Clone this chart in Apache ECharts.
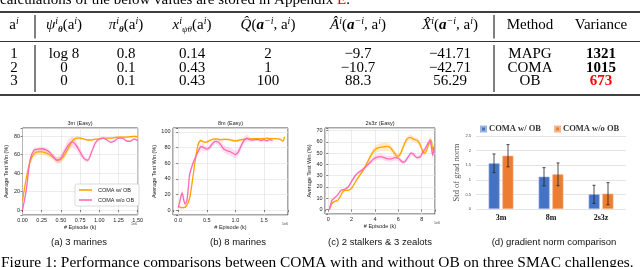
<!DOCTYPE html>
<html><head><meta charset="utf-8">
<script src="https://cdn.jsdelivr.net/npm/echarts@6/dist/echarts.min.js"></script>
<style>html,body{margin:0;padding:0;background:#fff}#c{width:640px;height:267px}</style>
</head><body><div id="c"></div>
<script>
// ---------------- table data ----------------
const tableHeaders = [
  '{r|a}{sup|i}',
  '{it|ψ}{sup|i}{subb|θ}{r|(a}{sup|i}{r|)}',
  '{it|π}{sup|i}{subb|θ}{r|(a}{sup|i}{r|)}',
  '{it|x}{sup|i}{sub|ψθ}{r|(a}{sup|i}{r|)}',
  '{it|Q\u0302}{r|(}{bi|a}{sup|−i}{r|, a}{sup|i}{r|)}',
  '{it|A\u0302}{sup|i}{r|(}{bi|a}{sup|−i}{r|, a}{sup|i}{r|)}',
  '{it|X\u0302}{sup|i}{r|(}{bi|a}{sup|−i}{r|, a}{sup|i}{r|)}',
  '{r|Method}',
  '{r|Variance}'
];
const colAction = ['1', '2', '3'];
const colPsi = ['log 8', '0', '0'];
const colPi = ['0.8', '0.1', '0.1'];
const colX = ['0.14', '0.43', '0.43'];
const colQ = ['2', '1', '100'];
const colAdv = ['−9.7', '−10.7', '88.3'];
const colXhat = ['−41.71', '−42.71', '56.29'];
const methods = ['MAPG', 'COMA', 'OB'];
const variances = ['1321', '1015', '673'];

// ---------------- 3m (Easy) ----------------
const m3_x = [0,0.05,0.1,0.15,0.2,0.25,0.3,0.35,0.4,0.45,0.5,0.55,0.6,0.65,0.7,0.75,0.8,0.85,0.9,0.95,1.0,1.05,1.1,1.15,1.2,1.25,1.3,1.35,1.4,1.45,1.5];
const m3_ob = [10,35,53,61,63,63,62,60,57,54,55,60,68,75,78,78,77,76,76,77,77,78,78,78,78.5,79,79,79,79.5,80,79.5];
const m3_ob_sd = [1,2,3,3,3,3,3,3,3,3.5,4,4,4,3,2,1.5,1,1,1,1,1,1,1,1,1,1,1,1,1,1,1];
const m3_noob = [0,22,55,65,66,66.5,65.5,63,58,54,56,64,71,74,70,63,56,54,63,73,77,78,76,73.5,75,78,78,75,74.5,77,75.5];
const m3_noob_sd = [0.5,2,2.5,2.5,2.5,2.5,2.5,2.5,2.5,3,4,5,6,6,5,4,3,2.5,2,2,1.5,1,1,1,1,1,1,1,1,1,1];

// ---------------- 8m (Easy) ----------------
const m8_ob_x = [0,0.05,0.1,0.15,0.2,0.25,0.3,0.35,0.4,0.45,0.5,0.55,0.6,0.65,0.7,0.75,0.8,0.85,0.9,0.95,1.0,1.05,1.1,1.15,1.2,1.25,1.3,1.35,1.4,1.45,1.5,1.55,1.6,1.65,1.7,1.75,1.8,1.83,1.86];
const m8_ob = [5,3,3,6,15,38,64,84,89,87,87,89,90.5,91,90.5,90,90.5,90.5,90,89,88.5,89,90,90.5,91,91,91,91.5,91.5,91.5,91.5,92,91.5,91.5,91.5,91,90,88,94];
const m8_ob_sd = [2,1.5,1.5,2,3,3,3,2,1.5,1.5,1.5,1.5,1.5,1.5,1.5,1.5,1.5,1.5,1.5,1.5,1.5,1.5,1.5,1.5,1.5,1.5,1.5,1,1,1,1,1,1,1,1,1,1,1.5,2];
const m8_noob_x = [0,0.03,0.05,0.07,0.1,0.12,0.15,0.18,0.2,0.25,0.3,0.35,0.4,0.45,0.5,0.55,0.6,0.65,0.7,0.75,0.8,0.85,0.9,0.95,1.0,1.05,1.1,1.15,1.2,1.25,1.3,1.35,1.4,1.45,1.5,1.55,1.6,1.65];
const m8_noob = [3,11,18,22,12,8,11,30,45,58,67,75,81,80,78,80,85,88,87,83,78,76,75,73,71,74,82,89,92,90,89.5,90,90,89,90,88.5,90,89];
const m8_noob_sd = [1,2,4,5,4,3,3,3,3,3,3,4,5,4,3,3,3,3,4,5,5,5,5,5,5,5,4,4,5,3,2,2,2,2,2,2,2,2];

// ---------------- 2s3z (Easy) ----------------
const s2z3_ob_x = [0.1,0.3,0.5,0.8,1.0,1.2,1.4,1.7,2.0,2.3,2.6,3.0,3.3,3.6,3.9,4.2,4.6,5.0,5.3,5.6,5.9,6.1,6.4,6.7,7.0,7.3,7.6,7.8,8.0,8.2,8.4,8.6,8.75,8.85,8.95,9.05];
const s2z3_ob = [0,5,7,8,11,15,17,17,19,24,29,35,41,47,52,54.5,55.5,56,55,51,47.5,48,55,62,64,62.5,61.5,59,54,50,52,58,62,60,53,56];
const s2z3_ob_sd = [0.5,1,1,1,1,1,1,1,1,1,1.5,1.5,2,2.5,3,3.5,3.5,3.5,3,3,2.5,2.5,2.5,2.5,2.5,2.5,2.5,2.5,2.5,2.5,2.5,3,3,3,3,3];
const s2z3_noob_x = [0.1,0.3,0.5,0.8,1.1,1.4,1.7,2.0,2.3,2.6,3.0,3.3,3.6,3.9,4.2,4.5,4.8,5.1,5.4,5.7,6.0,6.3,6.5,6.8,7.1,7.3,7.6,7.9,8.1,8.3,8.5,8.7,8.8,8.9,8.95,9.05];
const s2z3_noob = [0,8,10,13,17,18,20,25,30,33,36,39,42,45,46.5,47,46,45,45,46,45.5,42.5,42,46,50,49,46,47,51,54,58,61,58,50,48,55];
const s2z3_noob_sd = [0.5,1,1,1,1,1,1,1.5,1.5,1.5,2,2,2,2.5,2.5,2.5,2.5,2.5,2.5,2.5,2.5,2,2,2,2,2,2,2,2,2,2,2.5,2.5,3,3,3];

// ---------------- gradient norm ----------------
const gradCats = ['3m', '8m', '2s3z'];
const grad_ob = [1.565, 1.106, 0.503];
const grad_ob_err = [0.32, 0.31, 0.31];
const grad_noob = [1.825, 1.188, 0.524];
const grad_noob_err = [0.38, 0.39, 0.38];

// ---------------- text ----------------
const seriesNames = ['COMA w/ OB', 'COMA w/o OB'];
const subTitles = ['3m (Easy)', '8m (Easy)', '2s3z (Easy)'];
const subCaptions = ['(a) 3 marines', '(b) 8 marines', '(c) 2 stalkers & 3 zealots', '(d) gradient norm comparison'];
const yName = 'Average Test Win (%)';
const xName = '# Episode (k)';

// ================= build =================
const sans = 'Liberation Sans, Arial, sans-serif';
const serif = 'Liberation Serif, Times New Roman, serif';
const ORANGE = '#FFA500', PINK = '#FF69B4';
const ORANGE_BAND = 'rgba(255,165,0,0.22)', PINK_BAND = 'rgba(255,105,180,0.22)';
const FS = 15;
const RICH = {
  r: {fontFamily: serif, fontSize: FS, lineHeight: 18, fill: '#000'},
  it: {fontFamily: serif, fontSize: FS, fontStyle: 'italic', lineHeight: 18, fill: '#000'},
  bi: {fontFamily: serif, fontSize: FS, fontStyle: 'italic', fontWeight: 'bold', lineHeight: 18, fill: '#000'},
  sup: {fontFamily: serif, fontSize: 10, fontStyle: 'italic', lineHeight: 10, verticalAlign: 'top', fill: '#000'},
  sub: {fontFamily: serif, fontSize: 9, fontStyle: 'italic', lineHeight: 9, verticalAlign: 'bottom', fill: '#000'},
  subb: {fontFamily: serif, fontSize: 9, fontStyle: 'italic', fontWeight: 'bold', lineHeight: 9, verticalAlign: 'bottom', fill: '#000'},
  red: {fontFamily: serif, fontSize: FS, lineHeight: 18, fill: '#e00000'}
};
const colCenters = [14, 64, 126, 192, 268, 358, 450, 530, 601];
const rowY = [54.5, 68, 81.5];

const G = [];
function txt(x, y, text, extra) {
  G.push({type: 'text', x: x, y: y, silent: true,
    style: Object.assign({text: text, fontFamily: serif, fontSize: FS, fill: '#000', align: 'center', verticalAlign: 'middle'}, extra || {})});
}
function hline(y, x1, x2, w) {
  G.push({type: 'line', silent: true, shape: {x1: x1, y1: y, x2: x2, y2: y}, style: {stroke: '#000', lineWidth: w}});
}
function vline(x, y1, y2, w) {
  G.push({type: 'line', silent: true, shape: {x1: x, y1: y1, x2: x, y2: y2}, style: {stroke: '#000', lineWidth: w}});
}
// top cut sentence
txt(0, 0, '{r|calculations of the below values are stored in Appendix }{red|E}{r|.}', {rich: RICH, align: 'left'});
hline(12, 0, 640, 1.4);
hline(41.5, 0, 640, 0.8);
hline(95, 0, 640, 1.4);
vline(35, 15, 38.5, 1); vline(35, 45, 92, 1);
vline(494, 15, 38.5, 1); vline(494, 45, 92, 1);
tableHeaders.forEach((h, i) => txt(colCenters[i], 25, h, {rich: RICH}));
const cols = [colAction, colPsi, colPi, colX, colQ, colAdv, colXhat, methods];
cols.forEach((col, c) => col.forEach((v, r) => txt(colCenters[c], rowY[r], v)));
variances.forEach((v, r) => txt(colCenters[8], rowY[r], v, {fontWeight: 'bold', fill: r === 2 ? '#ff0000' : '#000'}));

// subplot titles / offsets / captions
const titleX = [80, 230.5, 380];
subTitles.forEach((t, i) => txt(titleX[i], 123.5, t, {fontFamily: sans, fontSize: 5.5, fill: '#222'}));
[[134, 224], [285, 224], [437, 223]].forEach(p => txt(p[0], p[1], '1e6', {fontFamily: sans, fontSize: 3.5, fill: '#444'}));
const capX = [79, 238, 380, 554];
subCaptions.forEach((t, i) => txt(capX[i], 242, t, {fontFamily: sans, fontSize: 9.5, fill: '#111'}));
txt(1, 262.5, 'Figure 1: Performance comparisons between COMA with and without OB on three SMAC challenges.', {fontSize: 15.4, align: 'left'});

// ---------- axes ----------
const grids = [
  {left: 22.5, top: 128, width: 115.2, height: 87},
  {left: 173, top: 128, width: 115, height: 87},
  {left: 325, top: 128, width: 110, height: 86},
  {left: 476, top: 136, width: 150, height: 73}
].map((g, i) => Object.assign(g, i < 3 ? {show: true, borderColor: '#222', borderWidth: 0.8, backgroundColor: 'transparent'} : {show: false}, {containLabel: false, outerBoundsMode: 'none'}));

const tickLbl = {fontSize: 5.5, color: '#222', fontFamily: sans, margin: 2.5};
const gl = {show: true, lineStyle: {color: '#e4e4e4', width: 0.7}};
const tk = {show: true, length: 2, lineStyle: {color: '#333', width: 0.6}};
function multOf(step, dec) {
  return v => (Math.abs(v / step - Math.round(v / step)) < 1e-6 ? v.toFixed(dec) : '');
}
function xv(i, min, max, step, dec) {
  return {type: 'value', gridIndex: i, min: min, max: max, minInterval: step, maxInterval: step, splitNumber: 5,
    axisLine: {show: false}, axisTick: tk, splitLine: gl,
    axisLabel: Object.assign({formatter: multOf(step, dec)}, tickLbl),
    name: xName, nameLocation: 'middle', nameGap: 9, nameTextStyle: {fontSize: 5.5, fontFamily: sans, color: '#222'}};
}
function yv(i, min, max, step) {
  return {type: 'value', gridIndex: i, min: min, max: max, minInterval: step, maxInterval: step, splitNumber: 5,
    axisLine: {show: false}, axisTick: tk, splitLine: gl,
    axisLabel: Object.assign({formatter: multOf(step, 0)}, tickLbl),
    name: yName, nameLocation: 'middle', nameGap: 12, nameTextStyle: {fontSize: 5.5, fontFamily: sans, color: '#222'}};
}
const xAxes = [
  xv(0, 0, 1.5, 0.25, 2),
  xv(1, -0.09, 1.92, 0.5, 1),
  xv(2, -0.28, 9.14, 2, 0),
  {type: 'category', gridIndex: 3, data: gradCats, axisLine: {show: false}, axisTick: {show: false},
    axisLabel: {fontFamily: serif, fontWeight: 'bold', fontSize: 8, color: '#111', margin: 5}}
];
const yAxes = [
  yv(0, -5.4, 89, 20),
  yv(1, -6.4, 105, 20),
  yv(2, -4, 72.4, 10),
  {type: 'value', gridIndex: 3, min: 0, max: 2.5, interval: 0.5, axisLine: {show: false}, axisTick: {show: false},
    splitLine: {show: true, lineStyle: {color: '#d9d9d9', width: 0.7}},
    axisLabel: {fontSize: 4, color: '#444', fontFamily: sans, margin: 5},
    name: 'Std of grad norm', nameLocation: 'middle', nameGap: 14,
    nameTextStyle: {fontFamily: serif, fontSize: 8.5, color: '#555'}}
];

// ---------- series ----------
const S = [];
// shaded spread band: polygon through the axis scales (api.coord)
function band(ai, xs, ys, sd, color) {
  S.push({type: 'custom', xAxisIndex: ai, yAxisIndex: ai, silent: true, z: 1, clip: true,
    encode: {x: 0, y: [1, 2]},
    data: xs.map((x, i) => [x, ys[i] - sd[i], ys[i] + sd[i]]),
    renderItem: function (params, api) {
      if (params.dataIndex !== 0) return null;
      const up = [], lo = [];
      for (let i = 0; i < xs.length; i++) {
        up.push(api.coord([xs[i], ys[i] + sd[i]]));
        lo.push(api.coord([xs[i], ys[i] - sd[i]]));
      }
      return {type: 'polygon', shape: {points: up.concat(lo.reverse())}, style: {fill: color}};
    }});
}
function mainLine(ai, name, xs, ys, color) {
  S.push({type: 'line', name: name, xAxisIndex: ai, yAxisIndex: ai, symbol: 'none', smooth: 0.3,
    lineStyle: {color: color, width: 1.3}, itemStyle: {color: color}, data: xs.map((x, i) => [x, ys[i]]), z: 3});
}
band(0, m3_x, m3_ob, m3_ob_sd, ORANGE_BAND);
band(0, m3_x, m3_noob, m3_noob_sd, PINK_BAND);
band(1, m8_ob_x, m8_ob, m8_ob_sd, ORANGE_BAND);
band(1, m8_noob_x, m8_noob, m8_noob_sd, PINK_BAND);
band(2, s2z3_ob_x, s2z3_ob, s2z3_ob_sd, ORANGE_BAND);
band(2, s2z3_noob_x, s2z3_noob, s2z3_noob_sd, PINK_BAND);
mainLine(0, seriesNames[0], m3_x, m3_ob, ORANGE);
mainLine(0, seriesNames[1], m3_x, m3_noob, PINK);
mainLine(1, seriesNames[0], m8_ob_x, m8_ob, ORANGE);
mainLine(1, seriesNames[1], m8_noob_x, m8_noob, PINK);
mainLine(2, seriesNames[0], s2z3_ob_x, s2z3_ob, ORANGE);
mainLine(2, seriesNames[1], s2z3_noob_x, s2z3_noob, PINK);

const BLUE = '#4472C4', ORG = '#ED7D31';
S.push({type: 'bar', name: seriesNames[0] + ' ', xAxisIndex: 3, yAxisIndex: 3, data: grad_ob, barWidth: 11, barGap: '25%',
  itemStyle: {color: BLUE, borderColor: '#9db4e0', borderWidth: 0.6}});
S.push({type: 'bar', name: seriesNames[1] + ' ', xAxisIndex: 3, yAxisIndex: 3, data: grad_noob, barWidth: 11,
  itemStyle: {color: ORG, borderColor: '#f4b48c', borderWidth: 0.6}});
function errBars(means, errs, off) {
  S.push({type: 'custom', xAxisIndex: 3, yAxisIndex: 3, silent: true, z: 5,
    encode: {x: 0, y: [1, 2]},
    data: means.map((m, i) => [i, m - errs[i], m + errs[i]]),
    renderItem: function (params, api) {
      const lo = api.coord([api.value(0), api.value(1)]);
      const hi = api.coord([api.value(0), api.value(2)]);
      const x = lo[0] + off;
      const st = {stroke: '#222', lineWidth: 0.8};
      return {type: 'group', children: [
        {type: 'line', shape: {x1: x, y1: lo[1], x2: x, y2: hi[1]}, style: st},
        {type: 'line', shape: {x1: x - 1.5, y1: lo[1], x2: x + 1.5, y2: lo[1]}, style: st},
        {type: 'line', shape: {x1: x - 1.5, y1: hi[1], x2: x + 1.5, y2: hi[1]}, style: st}
      ]};
    }});
}
errBars(grad_ob, grad_ob_err, -7);
errBars(grad_noob, grad_noob_err, 7);

const chart = echarts.init(document.getElementById('c'), null, {renderer: 'canvas'});
chart.setOption({
  animation: false,
  backgroundColor: '#fff',
  grid: grids,
  xAxis: xAxes,
  yAxis: yAxes,
  legend: [
    {data: seriesNames, orient: 'vertical', left: 75, top: 184, icon: 'rect', itemWidth: 13, itemHeight: 1.6, itemGap: 4,
      padding: [3, 5, 3, 4], borderColor: '#ccc', borderWidth: 0.7, borderRadius: 2, backgroundColor: '#fff',
      textStyle: {fontSize: 5.5, fontFamily: sans, color: '#222', padding: [0, 0, 0, 1]}, selectedMode: false},
    {data: seriesNames.map(n => n + ' '), orient: 'horizontal', left: 475, top: 119.5, icon: 'rect', itemWidth: 5, itemHeight: 5, itemGap: 11,
      textStyle: {fontSize: 8.5, fontFamily: serif, fontWeight: 'bold', color: '#333', padding: [0, 0, 0, -2]}, selectedMode: false}
  ],
  graphic: {elements: G},
  series: S
});
</script>
</body></html>
